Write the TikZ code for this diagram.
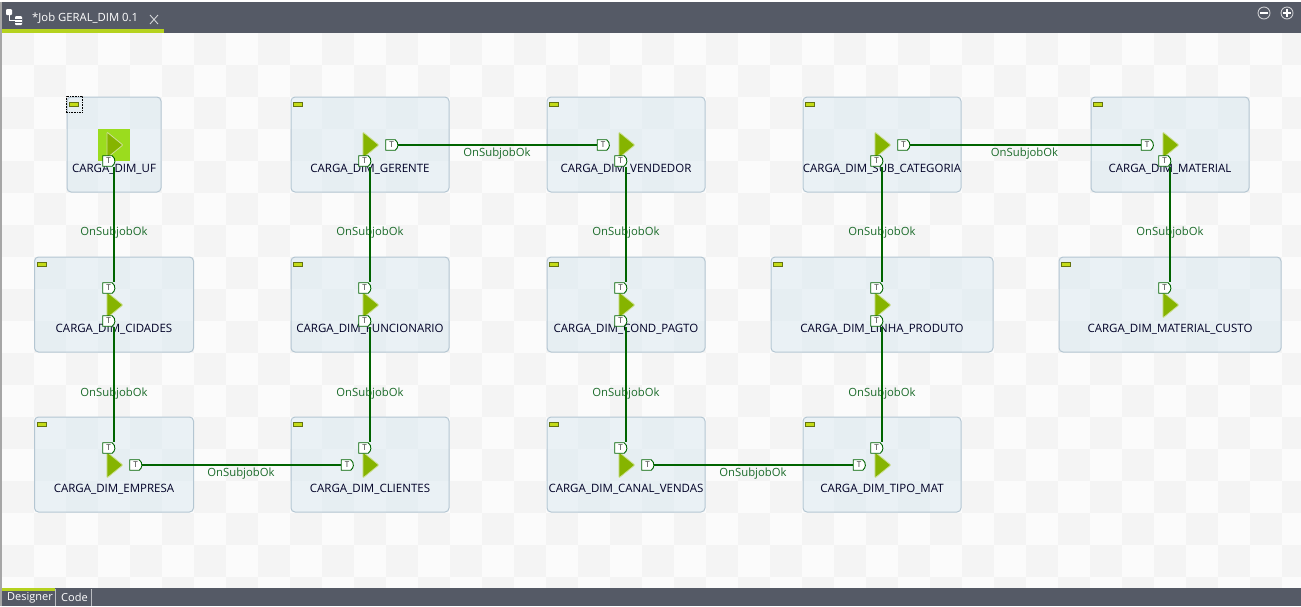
\documentclass[tikz,border=0pt]{standalone}
\usepackage{fontspec}
\setmainfont{Open Sans}
\usetikzlibrary{positioning, backgrounds, calc, shapes.geometric, shapes.misc}

\definecolor{barcol}{HTML}{555A66}
\definecolor{limecol}{HTML}{B5D21E}
\definecolor{startcol}{HTML}{86B400}
\definecolor{selcol}{HTML}{9BDC1E}
\definecolor{linkcol}{HTML}{006400}
\definecolor{labcol}{HTML}{1B6B2A}
\definecolor{boxline}{HTML}{B4C6D2}
\definecolor{boxfill}{HTML}{DAE9F1}
\definecolor{checkdark}{HTML}{F4F4F4}
\definecolor{checklight}{HTML}{FBFBFB}

\pgfdeclarelayer{wire}
\pgfsetlayers{background,wire,main}

\begin{document}
\begin{tikzpicture}[
        x=1pt, y=-1pt,
        % Styles
        jobbox/.style={rectangle, draw=boxline, line width=1pt, rounded corners=4pt, fill=boxfill,
                fill opacity=0.5, minimum height=95pt, inner sep=0pt},
        jobname/.style={font=\fontsize{11.5}{13}\selectfont, text=black!85!blue, inner sep=0pt},
        collapse/.style={rectangle, draw=black!45!limecol, fill=limecol!80!yellow, line width=0.7pt,
                minimum width=9pt, minimum height=3.5pt, inner sep=0pt},
        starticon/.style={isosceles triangle, isosceles triangle stretches, draw=white!60!startcol,
                line width=0.8pt, rounded corners=1pt, fill=startcol, minimum height=16pt, minimum width=26pt,
                inner sep=0pt, anchor=lower side},
        tagbox/.style={rounded rectangle, rounded rectangle left arc=none, rounded rectangle arc length=110,
                draw=linkcol, fill=white, line width=0.9pt, minimum width=11.5pt, minimum height=10.5pt,
                inner sep=0pt, font=\fontsize{8}{8}\selectfont, text=black!80},
        link/.style={draw=linkcol, line width=2.2pt},
        linklab/.style={font=\fontsize{11.3}{13}\selectfont, text=labcol, inner sep=0pt},
        barlab/.style={font=\fontsize{11}{13}\selectfont, text=white, inner sep=0pt},
    ]

    \useasboundingbox (0,0) rectangle (1301,606);

    % === CANVAS ===
    \begin{scope}[on background layer]
        \fill[checklight] (2,33) rectangle (1301,588);
        \foreach \i in {0,...,40} {
            \foreach \j in {0,...,17} {
                \pgfmathparse{int(mod(\i+\j,2))}
                \ifnum\pgfmathresult=0
                    \fill[checkdark] (2+32*\i,33+32*\j) rectangle ({min(1301,34+32*\i)},{min(588,65+32*\j)});
                \fi
            }
        }
    \end{scope}

    % === JOBS ===
    \foreach \n/\cx/\cy/\bw/\txt in {
            uf/114/145/94/CARGA\_DIM\_UF,
            gerente/370/145/158/CARGA\_DIM\_GERENTE,
            vendedor/626/145/158/CARGA\_DIM\_VENDEDOR,
            subcat/882/145/158/CARGA\_DIM\_SUB\_CATEGORIA,
            material/1170/145/158/CARGA\_DIM\_MATERIAL,
            cidades/114/305/159/CARGA\_DIM\_CIDADES,
            funcionario/370/305/158/CARGA\_DIM\_FUNCIONARIO,
            condpagto/626/305/158/CARGA\_DIM\_COND\_PAGTO,
            linha/882/305/222/CARGA\_DIM\_LINHA\_PRODUTO,
            custo/1170/305/222/CARGA\_DIM\_MATERIAL\_CUSTO,
            empresa/114/465/159/CARGA\_DIM\_EMPRESA,
            clientes/370/465/158/CARGA\_DIM\_CLIENTES,
            canal/626/465/158/CARGA\_DIM\_CANAL\_VENDAS,
            tipo/882/465/158/CARGA\_DIM\_TIPO\_MAT} {
        \coordinate (\n-c) at (\cx,\cy);
        \begin{scope}[on background layer]
            \node[jobbox, minimum width=\bw pt] (\n) at (\cx,\cy-0.5) {};
            \node[collapse, below right=5.5pt and 2.5pt of \n.north west] (\n-min) {};
            \node[jobname] (\n-name) at (\cx,\cy+24.5) {\txt};
        \end{scope}
    }

    % selected start job
    \begin{scope}[on background layer]
        \node[rectangle, fill=selcol, minimum size=32pt, inner sep=0pt] (uf-start) at (uf-c) {};
        \node[rectangle, draw, densely dotted, line width=0.6pt, minimum size=16pt, inner sep=0pt] (uf-sel) at (uf-min) {};
    \end{scope}

    % icons
    \foreach \n in {uf,gerente,vendedor,subcat,material,cidades,funcionario,condpagto,linha,custo,empresa,clientes,canal,tipo} {
        \begin{scope}[on background layer]
            \node[starticon] (\n-icon) at ([xshift=-7.5pt]\n-c) {};
        \end{scope}
    }

    % === LINK LABELS ===
    \begin{scope}[on background layer]
        \foreach \x in {114,370,626,882,1170} {\node[linklab] (lab-a\x) at (\x,233) {OnSubjobOk};}
        \foreach \x in {114,370,626,882} {\node[linklab] (lab-b\x) at (\x,394) {OnSubjobOk};}
        \node[linklab] (lab-h1) at (497,154) {OnSubjobOk};
        \node[linklab] (lab-h2) at (1024.5,154) {OnSubjobOk};
        \node[linklab] (lab-h3) at (241,474) {OnSubjobOk};
        \node[linklab] (lab-h4) at (753,474) {OnSubjobOk};
    \end{scope}

    % === T TAGS ===
    \foreach \n in {uf,gerente,vendedor,subcat,material,cidades,funcionario,condpagto,linha}
        \node[tagbox] (\n-out) at ([shift={(-5.5pt,-16pt)}]\n-c) {T};
    \foreach \n in {cidades,funcionario,condpagto,linha,custo,empresa,clientes,canal,tipo}
        \node[tagbox] (\n-in) at ([shift={(-5.5pt,17pt)}]\n-c) {T};
    \foreach \n in {gerente,subcat,empresa,canal}
        \node[tagbox] (\n-right) at ([xshift=21.5pt]\n-c) {T};
    \foreach \n in {vendedor,material,clientes,tipo}
        \node[tagbox] (\n-left) at ([xshift=-23pt]\n-c) {T};

    % === LINKS ===
    \begin{pgfonlayer}{wire}
        \foreach \a/\b in {uf/cidades,gerente/funcionario,vendedor/condpagto,subcat/linha,material/custo,
                cidades/empresa,funcionario/clientes,condpagto/canal,linha/tipo}
            \draw[link] (\a-c |- \a-out.south) -- (\b-c |- \b-in.north);
        \foreach \a/\b in {gerente/vendedor,subcat/material,empresa/clientes,canal/tipo}
            \draw[link] (\a-right.east) -- (\b-left.west);
    \end{pgfonlayer}

    % === WINDOW BARS ===
    \fill[barcol] (0,2) rectangle (1301,33);
    \fill[limecol] (2,29) rectangle (164,33);
    \fill[black!35] (0,2) rectangle (2,606);
    \node[barlab, anchor=west, font=\fontsize{11.3}{13}\selectfont] (jobtitle) at (32,18) {*Job GERAL\_DIM 0.1};
    \draw[white!75!barcol, line width=0.9pt] (150,15) -- (158,24) (158,15) -- (150,24);

    % tab icon
    \fill[white, rounded corners=1pt] (6,9) rectangle (12,15);
    \draw[white, line width=1pt] (9,15) -- (9,20) -- (16,20);
    \fill[white, rounded corners=1pt] (15,16) rectangle (22,25);
    \draw[barcol, line width=0.6pt] (15,19) -- (22,19) (15,22) -- (22,22);

    % zoom icons
    \node[circle, draw=white!70!barcol, line width=0.9pt, minimum size=12pt, inner sep=0pt] (zoomout) at (1264,13) {};
    \node[circle, draw=white!70!barcol, line width=0.9pt, minimum size=12pt, inner sep=0pt] (zoomin) at (1287,13) {};
    \draw[white, line width=1.1pt] (1260,13) -- (1268,13) (1283,13) -- (1291,13) (1287,9) -- (1287,17);

    % bottom tabs
    \fill[barcol] (0,588) rectangle (1301,606);
    \fill[black!35] (0,588) rectangle (2,606);
    \fill[limecol] (2,588) rectangle (55,590.5);
    \node[barlab, anchor=west] (designer) at (7,597.5) {Designer};
    \node[barlab, anchor=west] (code) at (61,597.5) {Code};
    \draw[white!60!barcol, line width=0.8pt] (55.5,589) -- (55.5,606) (91.5,589) -- (91.5,606);
\end{tikzpicture}
\end{document}
